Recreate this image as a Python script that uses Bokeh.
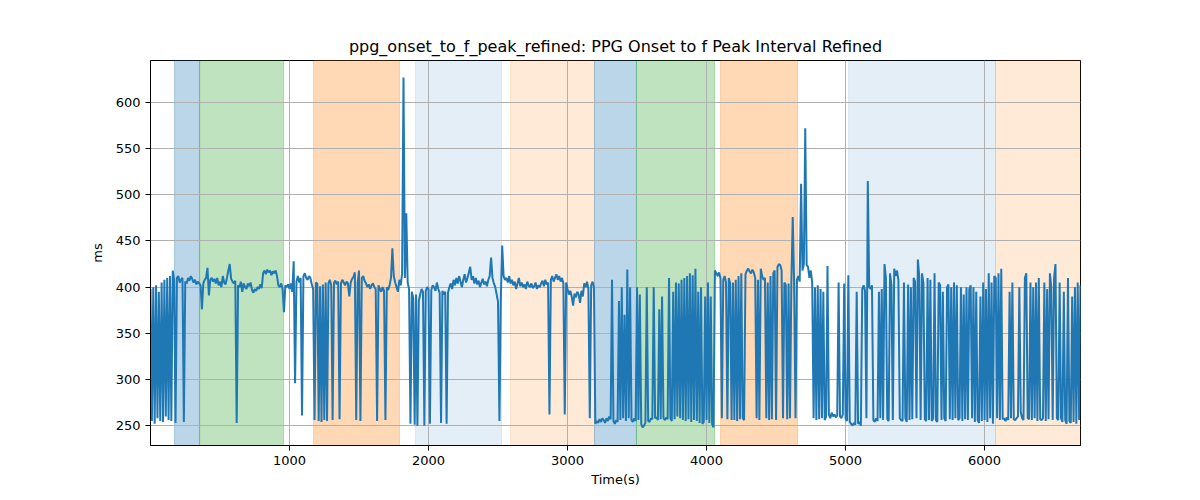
from bokeh.plotting import figure
from bokeh.models import BoxAnnotation, Range1d, FixedTicker, ColumnDataSource
from bokeh.embed import file_html
from bokeh.resources import INLINE

# ---- data ----
sample_step_s = 10  # one reading every 10 s
interval_ms = [
    # 0 - 190
    398, 255, 400, 252, 402, 258, 395, 255, 405, 254, 408, 260, 410, 256, 412, 255, 418, 408, 253, 410,
    # 200 - 390
    412, 405, 408, 410, 254, 406, 404, 410, 407, 412, 409, 405, 408, 403, 406, 404, 402, 376, 404, 408,
    # 400 - 590
    410, 421, 391, 408, 410, 406, 409, 404, 410, 402, 406, 400, 412, 405, 403, 410, 418, 425, 409, 406,
    # 600 - 790
    404, 407, 253, 402, 400, 406, 395, 404, 400, 398, 404, 401, 405, 397, 394, 398, 396, 400, 398, 403,
    # 800 - 990
    399, 415, 418, 414, 419, 416, 418, 413, 417, 415, 418, 412, 402, 400, 404, 398, 373, 402, 400, 403,
    # 1000 - 1190
    398, 404, 395, 428, 296, 406, 412, 405, 410, 261, 412, 415, 410, 408, 412, 410, 403, 398, 256, 405,
    # 1200 - 1390
    404, 255, 401, 254, 403, 256, 405, 255, 404, 408, 402, 256, 405, 407, 403, 406, 257, 404, 408, 405,
    # 1400 - 1590
    402, 406, 404, 390, 405, 409, 411, 416, 256, 404, 418, 255, 410, 412, 407, 404, 400, 403, 398, 402,
    # 1600 - 1790
    404, 400, 398, 255, 402, 398, 395, 400, 396, 256, 400, 397, 402, 410, 442, 412, 405, 400, 395, 408,
    # 1800 - 1990
    402, 415, 627, 410, 480, 405, 398, 252, 395, 388, 251, 392, 250, 385, 392, 398, 395, 250, 396, 400,
    # 2000 - 2190
    398, 252, 397, 402, 400, 396, 405, 398, 394, 253, 396, 392, 395, 252, 394, 400, 404, 398, 408, 402,
    # 2200 - 2390
    410, 404, 412, 406, 400, 408, 414, 405, 410, 416, 422, 408, 412, 404, 410, 403, 407, 400, 405, 409,
    # 2400 - 2590
    403, 406, 401, 408, 412, 432, 410, 404, 400, 392, 384, 255, 388, 445, 412, 408, 410, 405, 412, 404,
    # 2600 - 2790
    408, 402, 406, 398, 404, 410, 401, 405, 400, 403, 398, 406, 402, 400, 404, 399, 401, 405, 398, 402,
    # 2800 - 2990
    400, 404, 407, 401, 408, 403, 405, 262, 408, 412, 406, 410, 414, 408, 412, 406, 410, 404, 262, 405,
    # 3000 - 3190
    398, 392, 396, 390, 380, 393, 389, 395, 392, 383, 396, 390, 404, 400, 406, 398, 258, 402, 406, 400,
    # 3200 - 3390
    252, 255, 253, 257, 254, 258, 256, 253, 258, 255, 260, 257, 408, 255, 252, 256, 254, 385, 256, 400,
    # 3400 - 3590
    258, 370, 255, 419, 258, 400, 256, 254, 258, 255, 400, 256, 392, 252, 248, 250, 253, 400, 255, 254,
    # 3600 - 3790
    258, 257, 400, 258, 259, 256, 376, 257, 390, 258, 256, 259, 257, 410, 258, 255, 395, 257, 405, 260,
    # 3800 - 3990
    404, 258, 408, 256, 410, 255, 412, 257, 415, 254, 413, 256, 420, 255, 395, 253, 400, 252, 254, 390,
    # 4000 - 4190
    256, 405, 253, 390, 252, 248, 418, 415, 412, 416, 410, 258, 408, 412, 405, 257, 410, 404, 256, 405,
    # 4200 - 4390
    256, 408, 255, 412, 257, 415, 258, 256, 414, 418, 420, 417, 415, 419, 416, 410, 258, 408, 256, 420,
    # 4400 - 4590
    412, 408, 410, 258, 405, 256, 412, 257, 415, 418, 256, 422, 425, 424, 418, 258, 405, 402, 257, 404,
    # 4600 - 4790
    258, 405, 476, 403, 258, 408, 412, 406, 512, 418, 425, 572, 424, 422, 410, 418, 405, 258, 400, 256,
    # 4800 - 4990
    402, 257, 398, 258, 395, 256, 260, 423, 262, 258, 264, 260, 262, 259, 261, 405, 260, 258, 262, 404,
    # 5000 - 5190
    258, 255, 413, 254, 252, 250, 253, 251, 395, 252, 254, 250, 398, 402, 396, 258, 515, 400, 398, 402,
    # 5200 - 5390
    256, 254, 258, 255, 395, 258, 398, 256, 425, 410, 257, 255, 415, 402, 256, 420, 412, 418, 408, 258,
    # 5400 - 5590
    256, 255, 405, 258, 254, 403, 256, 400, 257, 410, 406, 258, 430, 412, 256, 415, 404, 257, 255, 410,
    # 5600 - 5790
    256, 408, 255, 258, 415, 256, 254, 405, 402, 256, 395, 258, 255, 400, 403, 257, 400, 256, 405, 258,
    # 5800 - 5990
    402, 256, 258, 400, 255, 392, 257, 400, 256, 398, 402, 258, 400, 254, 395, 256, 253, 390, 255, 405,
    # 6000 - 6190
    256, 398, 254, 415, 258, 405, 252, 412, 410, 258, 415, 256, 420, 257, 258, 255, 259, 256, 395, 258,
    # 6200 - 6390
    405, 257, 256, 258, 260, 400, 265, 258, 256, 410, 415, 258, 257, 405, 256, 400, 258, 405, 255, 410,
    # 6400 - 6590
    257, 256, 258, 405, 255, 398, 257, 415, 400, 256, 410, 425, 258, 256, 405, 258, 254, 395, 256, 252,
    # 6600 - 6690
    410, 255, 253, 390, 254, 400, 252, 405, 256, 402,
]
time_s = [i * sample_step_s for i in range(len(interval_ms))]

# shaded segments: (start, end, colour, alpha)
seg_start = [173, 353, 1173, 1906, 2590, 3194, 3496, 4101, 5022, 6079]
seg_end = [353, 957, 1791, 2525, 3194, 3496, 4058, 4655, 6079, 6700]
seg_color = ["#1f77b4", "#2ca02c", "#ff7f0e", "#1f77b4", "#ff7f0e",
             "#1f77b4", "#2ca02c", "#ff7f0e", "#1f77b4", "#ff7f0e"]
seg_alpha = [0.3, 0.3, 0.3, 0.12, 0.16, 0.3, 0.3, 0.3, 0.12, 0.16]

x_ticks = [1000, 2000, 3000, 4000, 5000, 6000]
y_ticks = [250, 300, 350, 400, 450, 500, 550, 600]

FONT = "DejaVu Sans"

p = figure(width=1200, height=500, output_backend="svg", toolbar_location=None,
           title="ppg_onset_to_f_peak_refined: PPG Onset to f Peak Interval Refined",
           x_range=Range1d(0, 6690), y_range=Range1d(228.5, 645.5),
           min_border_left=150, min_border_right=120, min_border_top=60, min_border_bottom=55)

p.title.align = "center"
p.title.text_font = FONT
p.title.text_font_size = "16px"
p.title.text_font_style = "normal"
p.title.text_color = "black"
p.title.offset = 0

for s, e, c, a in zip(seg_start, seg_end, seg_color, seg_alpha):
    p.add_layout(BoxAnnotation(left=s, right=e, fill_color=c, fill_alpha=a,
                               line_color=c, line_alpha=a, line_width=1, level="image"))

src = ColumnDataSource(data=dict(t=time_s, v=interval_ms))
p.line("t", "v", source=src, line_color="#1f77b4", line_width=2)

p.xaxis.ticker = FixedTicker(ticks=x_ticks)
p.yaxis.ticker = FixedTicker(ticks=y_ticks)
p.xaxis.axis_label = "Time(s)"
p.yaxis.axis_label = "ms"
for ax in (p.xaxis, p.yaxis):
    ax.axis_label_text_font = FONT
    ax.axis_label_text_font_size = "13px"
    ax.axis_label_text_font_style = "normal"
    ax.axis_label_text_color = "black"
    ax.major_label_text_font = FONT
    ax.major_label_text_font_size = "13px"
    ax.major_label_text_color = "black"
    ax.major_tick_in = 0
    ax.major_tick_out = 5
    ax.minor_tick_line_color = None
    ax.axis_line_color = "black"
    ax.major_tick_line_color = "black"
p.xaxis.axis_label_standoff = 4
p.yaxis.axis_label_standoff = 8

p.grid.grid_line_color = "#b0b0b0"
p.grid.grid_line_width = 1
p.outline_line_color = "black"
p.outline_line_width = 1
p.background_fill_color = "white"
p.border_fill_color = "white"

open("out.html", "w").write(file_html(p, INLINE))
